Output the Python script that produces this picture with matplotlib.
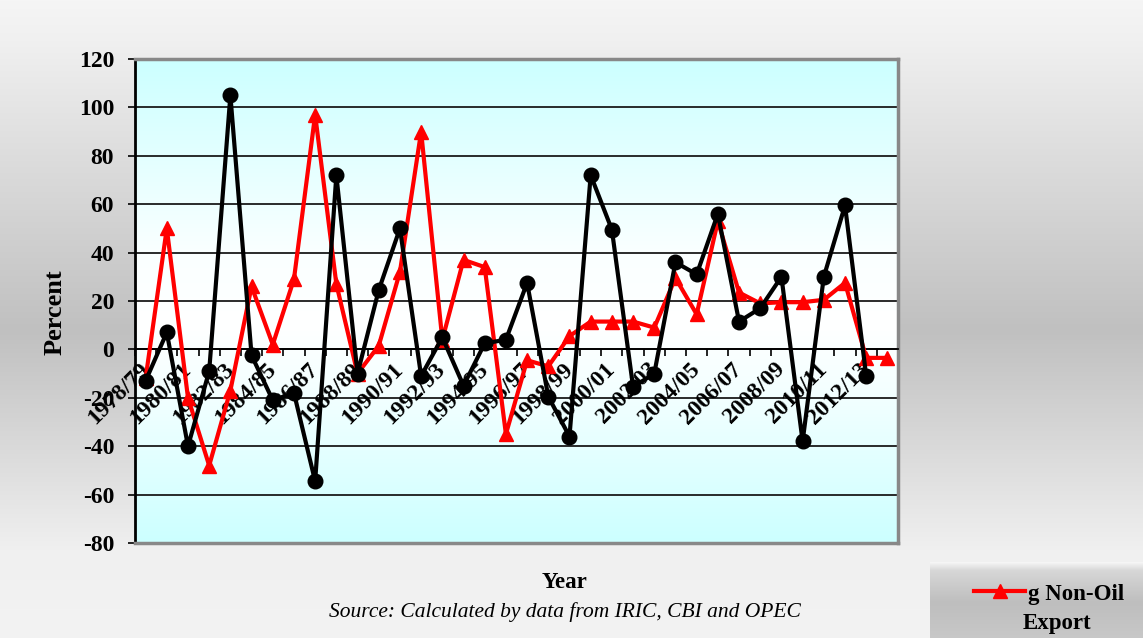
import numpy as np
import matplotlib
matplotlib.use('Agg')
import matplotlib.pyplot as plt
from matplotlib.lines import Line2D

plt.rcParams.update({
    'font.family': ['Liberation Serif', 'DejaVu Serif'],
    'font.weight': 'bold',
    'axes.unicode_minus': False,
})

# data
years = ['1978/79', '1979/80', '1980/81', '1981/82', '1982/83', '1983/84', '1984/85',
         '1985/86', '1986/87', '1987/88', '1988/89', '1989/90', '1990/91', '1991/92',
         '1992/93', '1993/94', '1994/95', '1995/96', '1996/97', '1997/98', '1998/99',
         '1999/00', '2000/01', '2001/02', '2002/03', '2003/04', '2004/05', '2005/06',
         '2006/07', '2007/08', '2008/09', '2009/10', '2010/11', '2011/12', '2012/13',
         '2013/14']
g_black = [-13, 7, -40, -9, 105, -2.5, -21, -18, -54.5, 72, -10, 24.5, 50, -11, 5,
           -15, 2.5, 4, 27.5, -19.5, -36, 72, 49.5, -15.5, -10, 36, 31, 56, 11.5, 17,
           30, -38, 30, 59.5, -11]
g_non_oil = [-12, 50, -20, -48, -17, 26, 2, 29, 97, 27, -10, 1.5, 32, 90, 4, 37, 34,
             -35, -4.5, -7, 5.5, 11.5, 11.5, 11.5, 9, 29.5, 14.5, 53, 23.5, 19, 19.5,
             19.5, 20.5, 27.5, -3.5, -3.5]
yticks = list(range(-80, 121, 20))

W, H = 1143, 638
fig = plt.figure(figsize=(W / 100, H / 100), dpi=100)

# grey gradient background of the whole figure
bg = fig.add_axes([0, 0, 1, 1], zorder=-10)
rows = np.arange(H)
g = np.interp(rows, [0, 40, 330, 550, 638], [245, 240, 192, 240, 243]) / 255
bg.imshow(np.repeat(g[:, None, None], 3, axis=2), aspect='auto', extent=[0, 1, 0, 1])
bg.axis('off')

# legend box background
lg = fig.add_axes([930 / W, 0, 213 / W, 76 / H], zorder=-5)
lrows = np.arange(76)
lgv = np.interp(lrows, [0, 8, 40, 76], [245, 215, 190, 200]) / 255
lg.imshow(np.repeat(lgv[:, None, None], 3, axis=2), aspect='auto', extent=[0, 1, 0, 1])
lg.axis('off')

ax = fig.add_axes([135 / W, 1 - 543 / H, (898 - 135) / W, (543 - 59) / H])
x_black = np.arange(len(g_black))
x_red = np.arange(len(g_non_oil))

# plot area cyan-white-cyan gradient
vals = np.linspace(120, -80, 300)
cy = np.interp(vals, [-80, -20, 10, 40, 120], [0, 0.75, 1, 0.9, 0])
grad = np.stack([204 / 255 + (51 / 255) * cy, np.ones_like(cy), np.ones_like(cy)], axis=1)
ax.imshow(grad[:, None, :], aspect='auto', extent=[-0.5, 35.5, -80, 120], zorder=0)

ax.set_xlim(-0.5, 35.5)
ax.set_ylim(-80, 120)
ax.set_yticks(yticks)
for yv in yticks:
    ax.axhline(yv, color='#1a1a1a', linewidth=1.3, zorder=1)

ax.plot(x_red, g_non_oil, color='red', linewidth=3, marker='^', markersize=10.5,
        zorder=3, label='g Non-Oil')
ax.plot(x_black, g_black, color='black', linewidth=3, marker='o', markersize=10.5,
        zorder=4)

ax.spines['bottom'].set_position(('data', 0))
ax.spines['bottom'].set_linewidth(1.3)
ax.spines['left'].set_linewidth(2)
ax.spines['top'].set_color('#888888')
ax.spines['top'].set_linewidth(2.5)
ax.spines['right'].set_color('#888888')
ax.spines['right'].set_linewidth(2.5)
ax.axhline(-80, color='#888888', linewidth=2.5, zorder=5, clip_on=False)

ax.set_xticks(np.arange(0, len(years), 2))
ax.set_xticklabels(years[::2], rotation=45, ha='right', va='center',
                   rotation_mode='anchor', fontsize=17, fontweight='bold')
ax.set_xticks(np.arange(-0.5, 36, 1), minor=True)
ax.tick_params(axis='x', which='major', length=0, pad=12)
ax.tick_params(axis='x', which='minor', length=5, width=1.2, direction='out')
ax.tick_params(axis='y', length=5, width=1.2, pad=10, labelsize=17)
for t in ax.get_yticklabels():
    t.set_fontweight('bold')

fig.text(55 / W, 1 - 312 / H, 'Percent', rotation=90, ha='center', va='center',
         fontsize=19, fontweight='bold')
fig.text(565 / W, 1 - 582 / H, 'Year', ha='center', va='center',
         fontsize=16.5, fontweight='bold')
fig.text(565 / W, 1 - 612 / H, 'Source: Calculated by data from IRIC, CBI and OPEC',
         ha='center', va='center', fontsize=15.5, fontstyle='italic', fontweight='normal')

handle = Line2D([], [], color='red', linewidth=3, marker='^', markersize=10.5)
fig.legend([handle], ['g Non-Oil'], loc='center left',
           bbox_to_anchor=(963 / W, 1 - 594 / H), frameon=False, fontsize=16.5,
           handlelength=2.2, handletextpad=0.15, borderpad=0)
fig.text(1023 / W, 1 - 623 / H, 'Export', ha='left', va='center',
         fontsize=16.5, fontweight='bold')

fig.savefig('out.png', dpi=100)
